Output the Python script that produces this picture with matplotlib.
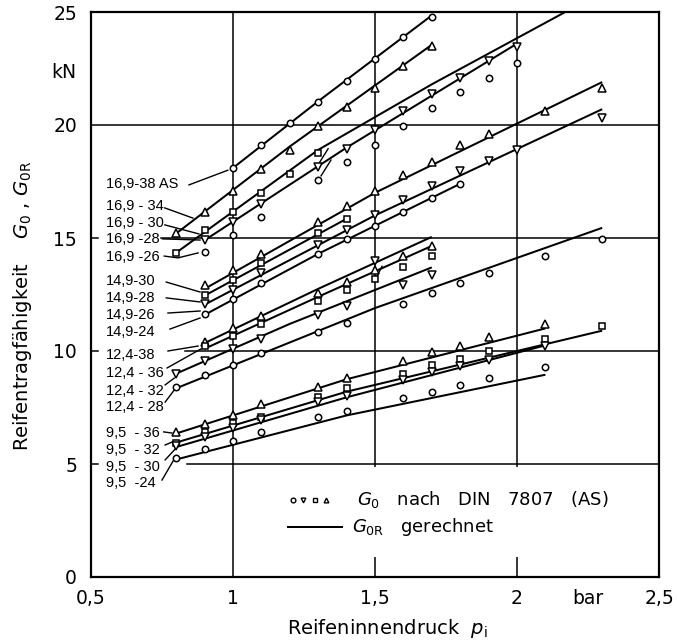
import matplotlib
matplotlib.use("Agg")
import matplotlib.pyplot as plt
from matplotlib.patches import Rectangle

# ---------------- data ----------------
# 16,9 group
p_169_38 = [1.0, 1.1, 1.2, 1.3, 1.4, 1.5, 1.6, 1.7]
g_169_38 = [18.1, 19.1, 20.1, 21.0, 21.95, 22.9, 23.9, 24.8]
lp_169_38 = [1.0, 1.3, 1.7]
lg_169_38 = [18.1, 21.05, 24.85]

p_169_34 = [0.8, 0.9, 1.0, 1.1, 1.2, 1.3, 1.4, 1.5, 1.6, 1.7]
g_169_34 = [15.2, 16.15, 17.1, 18.05, 18.9, 19.95, 20.8, 21.65, 22.6, 23.5]
lp_169_34 = [0.8, 1.2, 1.7]
lg_169_34 = [15.2, 19.05, 23.55]

p_169_30 = [0.8, 0.9, 1.0, 1.1, 1.2, 1.3]
g_169_30 = [14.35, 15.35, 16.15, 17.0, 17.85, 18.75]
lp_169_30 = [0.8, 1.3, 1.7, 2.17]
lg_169_30 = [14.35, 18.9, 21.8, 25.0]

p_169_28 = [0.9, 1.0, 1.1, 1.3, 1.4, 1.5, 1.6, 1.7, 1.8, 1.9, 2.0]
g_169_28 = [14.9, 15.7, 16.5, 18.15, 18.95, 19.8, 20.6, 21.35, 22.1, 22.85, 23.45]
lp_169_28 = [0.9, 1.4, 2.0]
lg_169_28 = [14.9, 19.0, 23.6]

p_169_26 = [0.9, 1.0, 1.1, 1.3, 1.4, 1.5, 1.6, 1.7, 1.8, 1.9, 2.0]
g_169_26 = [14.4, 15.15, 15.95, 17.55, 18.35, 19.1, 19.95, 20.75, 21.45, 22.1, 22.75]
lp_169_26 = []
lg_169_26 = []

# 14,9 group
p_149_30 = [0.9, 1.0, 1.1, 1.3, 1.4, 1.5, 1.6, 1.7, 1.8, 1.9, 2.1, 2.3]
g_149_30 = [12.9, 13.6, 14.3, 15.7, 16.4, 17.1, 17.8, 18.35, 19.1, 19.6, 20.6, 21.65]
lp_149_30 = [0.9, 1.5, 2.3]
lg_149_30 = [12.75, 17.0, 21.9]

p_149_28 = [0.9, 1.0, 1.1, 1.3, 1.4]
g_149_28 = [12.5, 13.15, 13.9, 15.2, 15.85]
lp_149_28 = [0.9, 1.4]
lg_149_28 = [12.45, 15.85]

p_149_26 = [0.9, 1.0, 1.1, 1.3, 1.4, 1.5, 1.6, 1.7, 1.8, 1.9, 2.0, 2.3]
g_149_26 = [12.1, 12.7, 13.45, 14.7, 15.35, 16.0, 16.7, 17.3, 17.95, 18.4, 18.9, 20.3]
lp_149_26 = [0.9, 1.5, 2.3]
lg_149_26 = [12.05, 16.0, 20.7]

p_149_24 = [0.9, 1.0, 1.1, 1.3, 1.4, 1.5, 1.6, 1.7, 1.8]
g_149_24 = [11.65, 12.3, 13.0, 14.3, 14.95, 15.55, 16.15, 16.75, 17.4]
lp_149_24 = [0.9, 1.3, 1.8]
lg_149_24 = [11.6, 14.3, 17.4]

# 12,4 group
p_124_38 = [0.9, 1.0, 1.1, 1.3, 1.4, 1.5, 1.6, 1.7]
g_124_38 = [10.4, 11.0, 11.55, 12.55, 13.05, 13.6, 14.2, 14.65]
lp_124_38 = [0.9, 1.3, 1.7]
lg_124_38 = [10.35, 12.75, 15.05]

p_124_36 = [0.9, 1.0, 1.1, 1.3, 1.4, 1.5, 1.6, 1.7]
g_124_36 = [10.2, 10.65, 11.2, 12.2, 12.7, 13.2, 13.7, 14.2]
lp_124_36 = [0.9, 1.3, 1.7]
lg_124_36 = [10.1, 12.4, 14.65]

p_124_32 = [0.8, 0.9, 1.0, 1.1, 1.3, 1.4, 1.5, 1.6, 1.7]
g_124_32 = [9.0, 9.55, 10.1, 10.55, 11.6, 12.0, 14.0, 12.9, 13.35]
lp_124_32 = [0.8, 1.2, 1.7]
lg_124_32 = [9.0, 11.2, 13.7]

p_124_28 = [0.8, 0.9, 1.0, 1.1, 1.3, 1.4, 1.6, 1.7, 1.8, 1.9, 2.1, 2.3]
g_124_28 = [8.4, 8.95, 9.4, 9.9, 10.85, 11.25, 12.1, 12.55, 13.0, 13.45, 14.2, 14.95]
lp_124_28 = [0.8, 1.5, 2.3]
lg_124_28 = [8.35, 11.9, 15.45]

# 9,5 group
p_95_36 = [0.8, 0.9, 1.0, 1.1, 1.3, 1.4, 1.6, 1.7, 1.8, 1.9, 2.1]
g_95_36 = [6.4, 6.75, 7.15, 7.65, 8.4, 8.8, 9.55, 9.95, 10.2, 10.6, 11.2]
lp_95_36 = [0.8, 1.4, 2.1]
lg_95_36 = [6.35, 8.75, 11.0]

p_95_32 = [0.8, 0.9, 1.0, 1.1, 1.3, 1.4, 1.6, 1.7, 1.8, 1.9, 2.1, 2.3]
g_95_32 = [5.95, 6.4, 6.8, 7.1, 7.95, 8.35, 9.0, 9.4, 9.65, 10.0, 10.55, 11.1]
lp_95_32 = [0.8, 1.4, 2.3]
lg_95_32 = [5.95, 8.2, 10.9]

p_95_30 = [0.8, 0.9, 1.0, 1.1, 1.3, 1.4, 1.6, 1.7, 1.8, 1.9, 2.1]
g_95_30 = [5.8, 6.2, 6.6, 6.95, 7.75, 8.0, 8.7, 9.05, 9.35, 9.6, 10.2]
lp_95_30 = [0.8, 1.4, 2.1]
lg_95_30 = [5.75, 7.95, 10.25]

p_95_24 = [0.8, 0.9, 1.0, 1.1, 1.3, 1.4, 1.6, 1.7, 1.8, 1.9, 2.1]
g_95_24 = [5.25, 5.65, 6.0, 6.4, 7.1, 7.35, 7.9, 8.2, 8.5, 8.8, 9.3]
lp_95_24 = [0.8, 1.4, 2.1]
lg_95_24 = [5.2, 7.15, 8.95]

series_labels = ["16,9-38 AS", "16,9 - 34", "16,9 - 30", "16,9 -28", "16,9 -26",
                 "14,9-30", "14,9-28", "14,9-26", "14,9-24",
                 "12,4-38", "12,4 - 36", "12,4 - 32", "12,4 - 28",
                 "9,5  - 36", "9,5  - 32", "9,5  - 30", "9,5  -24"]

x_ticks = [0.5, 1.0, 1.5, 2.0, 2.25, 2.5]
x_ticklabels = ["0,5", "1", "1,5", "2", "bar", "2,5"]
y_ticks = [0, 5, 10, 15, 20, 25]
y_ticklabels = ["0", "5", "10", "15", "20", "25"]

# ---------------- styling ----------------
plt.rcParams['font.family'] = ['DejaVu Sans']
plt.rcParams['mathtext.fontset'] = 'dejavusans'
lab_font, lab_size = 'Liberation Sans', 10.5

fig = plt.figure(figsize=(6.78, 6.41), dpi=100)
W, H = 678, 641
ax = fig.add_axes([91 / W, 1 - 577 / H, (659 - 91) / W, (577 - 12) / H])
ax.set_xlim(0.5, 2.5)
ax.set_ylim(0, 25)

LW = 1.45
GW = 1.1
# grid lines drawn manually (with gaps like the reference)
for xv in [1.0, 1.5, 2.0]:
    ax.plot([xv, xv], [0, 25], color='black', lw=GW, zorder=1)
ax.plot([0.5, 2.5], [20, 20], color='black', lw=GW, zorder=1)
ax.plot([0.745, 2.5], [15, 15], color='black', lw=GW, zorder=1)
ax.plot([0.832, 2.5], [10, 10], color='black', lw=GW, zorder=1)
ax.plot([0.838, 2.5], [5, 5], color='black', lw=GW, zorder=1)
for yv in [5, 10, 15]:
    ax.plot([0.5, 0.525], [yv, yv], color='black', lw=GW, zorder=1)

# white area behind legend
ax.add_patch(Rectangle((1.165, 0.9), 1.335, 3.98, facecolor='white',
                       edgecolor='none', zorder=1.5))

MS = {'o': 4.6, 'v': 5.2, 's': 4.0, '^': 5.2}

def draw(p, g, lp, lg, m):
    if lp:
        ax.plot(lp, lg, color='black', lw=LW, zorder=2, solid_capstyle='butt')
    ax.plot(p, g, linestyle='none', marker=m, ms=MS[m], mfc='white',
            mec='black', mew=1.1, zorder=3, clip_on=False)

draw(p_169_38, g_169_38, lp_169_38, lg_169_38, 'o')
draw(p_169_34, g_169_34, lp_169_34, lg_169_34, '^')
draw(p_169_30, g_169_30, lp_169_30, lg_169_30, 's')
draw(p_169_28, g_169_28, lp_169_28, lg_169_28, 'v')
draw(p_169_26, g_169_26, lp_169_26, lg_169_26, 'o')
draw(p_149_30, g_149_30, lp_149_30, lg_149_30, '^')
draw(p_149_28, g_149_28, lp_149_28, lg_149_28, 's')
draw(p_149_26, g_149_26, lp_149_26, lg_149_26, 'v')
draw(p_149_24, g_149_24, lp_149_24, lg_149_24, 'o')
draw(p_124_38, g_124_38, lp_124_38, lg_124_38, '^')
draw(p_124_36, g_124_36, lp_124_36, lg_124_36, 's')
draw(p_124_32, g_124_32, lp_124_32, lg_124_32, 'v')
draw(p_124_28, g_124_28, lp_124_28, lg_124_28, 'o')
draw(p_95_36, g_95_36, lp_95_36, lg_95_36, '^')
draw(p_95_32, g_95_32, lp_95_32, lg_95_32, 's')
draw(p_95_30, g_95_30, lp_95_30, lg_95_30, 'v')
draw(p_95_24, g_95_24, lp_95_24, lg_95_24, 'o')

# short connecting strokes seen in the reference
kinks = [
    [(1.335, 18.95), (1.305, 18.35)],
    [(1.345, 18.45), (1.31, 17.75)],
    [(1.525, 13.75), (1.507, 13.3)],
]
for kk in kinks:
    ax.plot([q[0] for q in kk], [q[1] for q in kk], color='black', lw=1.0,
            zorder=2)

# series labels with leader lines (layout positions)
label_y = [17.4, 16.4, 15.66, 14.96, 14.16, 13.1, 12.35, 11.6, 10.84,
           9.82, 9.03, 8.23, 7.52, 6.37, 5.62, 4.87, 4.16]
leaders = [
    [(0.845, 17.35), (0.982, 18.0)],
    [(0.760, 16.33), (0.859, 15.88)],
    [(0.760, 15.58), (0.880, 15.18)],
    [(0.752, 14.96), (0.884, 14.91)],
    [(0.758, 14.2), (0.806, 14.12), (0.877, 14.34)],
    [(0.765, 13.05), (0.884, 12.61)],
    [(0.765, 12.35), (0.884, 12.17)],
    [(0.771, 11.68), (0.884, 11.77)],
    [(0.778, 10.97), (0.884, 11.46)],
    [(0.771, 10.0), (0.877, 10.22)],
    [(0.768, 9.25), (0.887, 10.09)],
    [(0.761, 8.5), (0.793, 8.8)],
    [(0.761, 7.74), (0.793, 8.27)],
    [(0.756, 6.42), (0.785, 6.37)],
    [(0.761, 5.84), (0.785, 5.97)],
    [(0.761, 5.18), (0.800, 5.71)],
    [(0.750, 4.29), (0.789, 5.13)],
]
for txt, yy, ld in zip(series_labels, label_y, leaders):
    ax.text(0.553, yy, txt, ha='left', va='center', fontsize=lab_size,
            family=[lab_font, 'DejaVu Sans'], zorder=4)
    ax.plot([q[0] for q in ld], [q[1] for q in ld], color='black', lw=1.0,
            zorder=2)

# legend drawn by hand
leg_x = [1.211, 1.246, 1.289, 1.327]
for xv, m in zip(leg_x, ['o', 'v', 's', '^']):
    ax.plot([xv], [3.41], marker=m, ms=3.4, mfc='white', mec='black',
            mew=1.0, linestyle='none', zorder=3)
ax.text(1.437, 3.41, r"$G_0$   nach   DIN   7807   (AS)", ha='left',
        va='center', fontsize=13, zorder=4)
ax.plot([1.194, 1.384], [2.21, 2.21], color='black', lw=LW, zorder=3)
ax.text(1.419, 2.21, r"$G_{0\mathrm{R}}$   gerechnet", ha='left', va='center',
        fontsize=13, zorder=4)

# axes, ticks
for s in ax.spines.values():
    s.set_linewidth(1.6)
    s.set_zorder(2.5)
ax.set_xticks(x_ticks)
ax.set_xticklabels(x_ticklabels)
ax.set_yticks(y_ticks)
ax.set_yticklabels(y_ticklabels)
ax.tick_params(axis='both', length=0, labelsize=13.5)
ax.tick_params(axis='x', pad=9)
ax.tick_params(axis='y', pad=10)

fig.text(76 / W, 1 - 73 / H, "kN", ha='right', va='center', fontsize=13.5)
fig.text(387 / W, 1 - 628 / H, r"Reifeninnendruck  $p_{\mathrm{i}}$",
         ha='center', va='center', fontsize=14)
fig.text(23 / W, 1 - 306 / H,
         r"Reifentragfähigkeit    $G_0$ , $G_{0\mathrm{R}}$",
         ha='center', va='center', rotation=90, fontsize=14)

fig.savefig("out.png", dpi=100, facecolor='white')
